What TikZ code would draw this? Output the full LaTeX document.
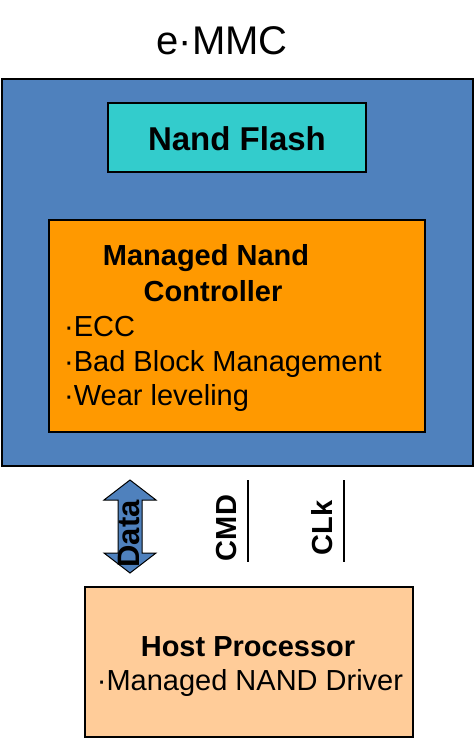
\documentclass[tikz,border=0pt]{standalone}
\usepackage{fontspec}
\setmainfont{Liberation Sans}
\usepackage{tikz}
\usetikzlibrary{positioning}
\definecolor{emmcblue}{HTML}{4F81BD}
\definecolor{flashcyan}{HTML}{33CCCC}
\definecolor{ctrlorange}{HTML}{FF9900}
\definecolor{hostpeach}{HTML}{FFCC99}

\begin{document}
\begin{tikzpicture}[x=1pt, y=-1pt,
    box/.style={draw, line width=2pt, inner sep=0pt},
    txt/.style={anchor=base, inner sep=0pt, font=\fontsize{29}{35}\selectfont},
    bold/.style={txt, font=\bfseries\fontsize{29}{35}\selectfont},
    vert/.style={font=\bfseries\fontsize{29}{35}\selectfont, rotate=90, inner sep=0pt}]
                \useasboundingbox (0,0) rectangle (475,741);

                % Title above the package
                \node[txt, font=\fontsize{40}{48}\selectfont] (title) at (222,55) {e·MMC};

                % Outer e-MMC package
                \node[box, fill=emmcblue, minimum width=471pt, minimum height=387pt] (emmc) at (237.5,272.5) {};

                % Nand flash block
                \node[box, fill=flashcyan, minimum width=258pt, minimum height=69pt] (flash) at (237,137.5) {};
                \node[bold, font=\bfseries\fontsize{33}{39}\selectfont] (flashtxt) at (237,150) {Nand Flash};

                % Controller block with its features
                \node[box, fill=ctrlorange, minimum width=376pt, minimum height=212pt] (ctrl) at (237,326) {};
                \node[bold] (ctrltitle) at (206,265) {Managed Nand};
                \node[bold] (ctrltitleb) at (213,301) {Controller};
                \node[txt, anchor=base west] (ecc) at (64,336) {·ECC};
                \node[txt, anchor=base west] (bbm) at (64,371) {·Bad Block Management};
                \node[txt, anchor=base west] (wear) at (64,405) {·Wear leveling};

                % Data bus, double headed
                \draw[line width=1pt, fill=emmcblue] (130,480) -- (156,500) -- (142,500) -- (142,553)
                  -- (156,553) -- (130,573) -- (104,553) -- (118,553) -- (118,500) -- (104,500) -- cycle;
                \node[vert, font=\bfseries\fontsize{31}{37}\selectfont] (data) at (129,534) {Data};

                % CMD and CLk lines
                \node[vert] (cmd) at (227,528) {CMD};
                \coordinate (cmdtop) at (248,480);
                \coordinate (cmdbot) at (248,562);
                \draw[line width=2pt] (cmdtop) -- (cmdbot);
                \node[vert] (clk) at (322,528) {CLk};
                \coordinate (clktop) at (344,480);
                \coordinate (clkbot) at (344,562);
                \draw[line width=2pt] (clktop) -- (clkbot);

                % Host processor
                \node[box, fill=hostpeach, minimum width=328pt, minimum height=150pt] (host) at (249,662) {};
                \node[bold] (hosttxt) at (248,656) {Host Processor};
                \node[txt] (driver) at (250,690) {·Managed NAND Driver};
\end{tikzpicture}
\end{document}
